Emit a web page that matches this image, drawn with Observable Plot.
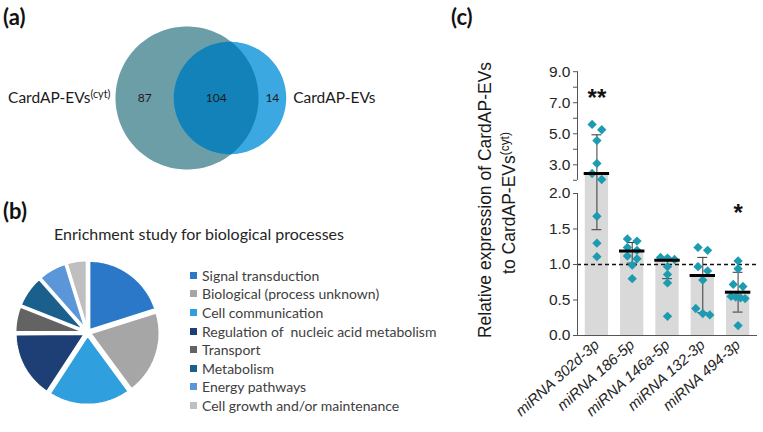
<!DOCTYPE html>
<html>
<head>
<meta charset="utf-8">
<script src="https://cdn.jsdelivr.net/npm/d3@7"></script>
<script src="https://cdn.jsdelivr.net/npm/@observablehq/plot@0.6"></script>
<style>
  body { margin: 0; background: #fff; }
  #fig { position: relative; width: 763px; height: 432px; overflow: hidden; background: #fff; }
  .abs { position: absolute; }
  .letter { position: absolute; font-family: Lato, "Open Sans", sans-serif; font-weight: 700; font-size: 22px; color: #111; line-height: 1; }
  #title { position: absolute; left: 199px; top: 233px; transform: translate(-50%, -50%); white-space: nowrap;
           font-family: Lato, "Open Sans", sans-serif; font-size: 16px; color: #262626; }
  #legend { position: absolute; left: 190px; top: 266px; font-family: Lato, "Open Sans", sans-serif; font-size: 14px; color: #404040; }
  #legend .row { height: 18.6px; display: flex; align-items: center; white-space: pre; }
  #legend .sw { width: 7px; height: 7px; margin-right: 5px; flex: none; }
  .ylab { position: absolute; transform: translate(-50%, -50%) rotate(-90deg); white-space: nowrap;
          font-family: "Liberation Sans", Arial, sans-serif; font-size: 17.5px; color: #1a1a1a; line-height: 1; }
  .ylab sup { font-size: 0.68em; vertical-align: 0.55em; line-height: 0; }
  g[aria-label="x-axis tick label"] text { font-style: italic; font-size: 15px; }
  g[aria-label="y-axis tick label"] text { font-size: 15.5px; }
</style>
</head>
<body>
<div id="fig">
  <div class="letter" style="left:3px; top:6px;">(a)</div>
  <div class="letter" style="left:3px; top:200px;">(b)</div>
  <div class="letter" style="left:451px; top:6px;">(c)</div>
  <div id="panelA" class="abs" style="left:0; top:0;"></div>
  <div id="title">Enrichment study for biological processes</div>
  <div id="panelB" class="abs" style="left:0; top:200px;"></div>
  <div id="legend"></div>
  <div class="ylab" style="left:486px; top:200px;">Relative expression of CardAP-EVs</div>
  <div class="ylab" style="left:510px; top:203px;">to CardAP-EVs<sup>(cyt)</sup></div>
  <div id="panelC" class="abs" style="left:470px; top:0;"></div>
</div>
<script>
// ---------------- DATA ----------------
// (a) Venn
const vennSets = ["CardAP-EVs(cyt)", "CardAP-EVs"];
const vennOnly = [87, 14];
const vennShared = 104;
const vennColors = ["#6c9ea8", "#3ca8e1", "#1282b9"];

// (b) Pie
const bioProcesses = ["Signal transduction", "Biological (process unknown)", "Cell communication",
  "Regulation of  nucleic acid metabolism", "Transport", "Metabolism", "Energy pathways",
  "Cell growth and/or maintenance"];
const bioShares = [20.1, 19.8, 19.3, 15.7, 6.1, 7.5, 6.7, 4.8];
const bioColors = ["#2b78c8", "#a6a6a6", "#2f9fdd", "#1d3f75", "#636363", "#1b5f8d", "#5a96d8", "#bfbfbf"];

// (c) Bars
const mirnas = ["miRNA 302d-3p", "miRNA 186-5p", "miRNA 146a-5p", "miRNA 132-3p", "miRNA 494-3p"];
const barValues = [2.44, 1.19, 1.06, 0.845, 0.61];
const errLow = [1.49, 1.02, 0.80, 0.32, 0.33];
const errHigh = [4.93, 1.31, 1.08, 1.10, 0.89];
const replicates = [
  [5.60, 5.26, 4.56, 3.09, 2.44, 2.05, 1.68, 1.30, 1.11],
  [1.36, 1.33, 1.24, 1.20, 1.12, 1.08, 0.99, 0.80],
  [1.10, 1.09, 1.07, 0.97, 0.86, 0.74, 0.27],
  [1.24, 1.20, 0.97, 0.91, 0.78, 0.38, 0.31, 0.29],
  [1.05, 0.94, 0.72, 0.69, 0.55, 0.54, 0.53, 0.52, 0.14]
];
const sigMarks = ["**", "", "", "", "*"];
const sigLevels = [7.3, null, null, null, 1.72];
const yTicksLower = [0, 0.5, 1, 1.5, 2];
const yTicksUpperLabeled = [3, 5, 7, 9];
const yTicksUpperMinor = [4, 6, 8];
const referenceLevel = 1;

// ---------------- PANEL (a): Venn ----------------
(function () {
  const PW = 380, PH = 200, cx = 186.5, cy = 97.5, rBig = 71.5, gap = 43;
  const totals = [vennOnly[0] + vennShared, vennOnly[1] + vennShared];
  const k = rBig / Math.sqrt(totals[0]);
  const r1 = k * Math.sqrt(totals[0]), r2 = k * Math.sqrt(totals[1]);
  const d = gap;
  const N = 180;
  const circ = (x0, r, id) => d3.range(N).map(i => ({id, x: x0 + r * Math.cos(2 * Math.PI * i / N), y: r * Math.sin(2 * Math.PI * i / N)}));
  const a = (d * d + r1 * r1 - r2 * r2) / (2 * d);
  const h = Math.sqrt(r1 * r1 - a * a);
  const t1 = Math.atan2(h, a), phi = Math.atan2(h, a - d);
  const lens = [];
  for (let i = 0; i <= 60; i++) { const t = -t1 + 2 * t1 * i / 60; lens.push({x: r1 * Math.cos(t), y: r1 * Math.sin(t)}); }
  for (let i = 0; i <= 90; i++) { const t = phi + (2 * Math.PI - 2 * phi) * i / 90; lens.push({x: d + r2 * Math.cos(t), y: r2 * Math.sin(t)}); }
  const counts = [
    {x: (-r1 + (d - r2)) / 2, n: vennOnly[0]},
    {x: ((d - r2) + r1) / 2, n: vennShared},
    {x: (r1 + d + r2) / 2, n: vennOnly[1]}
  ];
  const labels = [
    {x: -r1 - 5, t: vennSets[0], anchor: "end"},
    {x: d + r2 + 7, t: vennSets[1], anchor: "start"}
  ];
  const svg = Plot.plot({
    width: PW, height: PH, margin: 0,
    x: {domain: [-cx, PW - cx], range: [0, PW], axis: null},
    y: {domain: [-cy, PH - cy], range: [0, PH], axis: null},
    style: {background: "transparent", overflow: "visible"},
    marks: [
      Plot.line(circ(0, r1, "big"), {x: "x", y: "y", fill: vennColors[0], stroke: "none", curve: "linear-closed"}),
      Plot.line(circ(d, r2, "small"), {x: "x", y: "y", fill: vennColors[1], stroke: "none", curve: "linear-closed"}),
      Plot.line(lens, {x: "x", y: "y", fill: vennColors[2], stroke: "none", curve: "linear-closed"}),
      Plot.text(counts, {x: "x", y: 0, text: d => String(d.n), fontSize: 12, fill: "#1a1a1a", fontFamily: "Lato, 'Open Sans', sans-serif"}),
      Plot.text(labels.filter(l => l.anchor === "end"), {x: "x", y: 0, text: "t", textAnchor: "end", fontSize: 15.5, fill: "#1a1a1a", fontFamily: "Lato, 'Open Sans', sans-serif"}),
      Plot.text(labels.filter(l => l.anchor === "start"), {x: "x", y: 0, text: "t", textAnchor: "start", fontSize: 15.5, fill: "#1a1a1a", fontFamily: "Lato, 'Open Sans', sans-serif"})
    ]
  });
  d3.select(svg).selectAll("text").each(function () {
    const s = this.textContent;
    if (s.endsWith("(cyt)")) {
      const el = d3.select(this);
      el.text(s.replace("(cyt)", ""));
      el.append("tspan").attr("dy", "-0.45em").attr("font-size", "0.7em").text("(cyt)");
    }
  });
  document.getElementById("panelA").appendChild(svg);
})();

// ---------------- PANEL (b): Pie ----------------
(function () {
  const PW = 190, PH = 232, cx = 87, cy = 132, R = 70, explode = 2.5;
  const arcs = d3.pie().sort(null).value(d => d)(bioShares);
  const pts = [];
  arcs.forEach((arc, i) => {
    const mid = (arc.startAngle + arc.endAngle) / 2;
    const ox = explode * Math.sin(mid), oy = -explode * Math.cos(mid);
    pts.push({s: i, x: ox, y: oy, c: bioColors[i]});
    const n = Math.max(8, Math.ceil((arc.endAngle - arc.startAngle) / 0.03));
    for (let j = 0; j <= n; j++) {
      const t = arc.startAngle + (arc.endAngle - arc.startAngle) * j / n;
      pts.push({s: i, x: ox + R * Math.sin(t), y: oy - R * Math.cos(t), c: bioColors[i]});
    }
  });
  const svg = Plot.plot({
    width: PW, height: PH, margin: 0,
    x: {domain: [-cx, PW - cx], range: [0, PW], axis: null},
    y: {domain: [-cy, PH - cy], range: [0, PH], axis: null},
    color: {type: "identity"},
    style: {background: "transparent", overflow: "visible"},
    marks: [
      Plot.line(pts, {x: "x", y: "y", z: "s", fill: "c", stroke: "white", strokeWidth: 2.8, strokeLinejoin: "round", curve: "linear-closed"})
    ]
  });
  document.getElementById("panelB").appendChild(svg);

  const lg = d3.select("#legend");
  bioProcesses.forEach((p, i) => {
    const row = lg.append("div").attr("class", "row");
    row.append("div").attr("class", "sw").style("background", bioColors[i]);
    row.append("span").text(p);
  });
})();

// ---------------- PANEL (c): Bars ----------------
(function () {
  const PL = 470, PW = 293, PH = 432;
  const xDomain = [-0.55, mirnas.length - 1 + 0.55];
  const xRange = [577 - PL, 757 - PL];
  const EPS = 1e-6;
  const yDomain = [0, 2, 2 + EPS, 9];
  const yRange = [335, 193, 179.8, 71.2];
  const pxPerUnit = (xRange[1] - xRange[0]) / (xDomain[1] - xDomain[0]);
  const yScale = Plot.scale({y: {type: "linear", domain: yDomain, range: yRange}});

  const summary = mirnas.map((m, i) => ({i, m, value: barValues[i], lo: errLow[i], hi: errHigh[i]}));
  const caps = summary.flatMap(d => [{i: d.i, y: d.lo}, {i: d.i, y: d.hi}]);

  // arrange replicates in rows (like a scatter-dot-plot), offsets derived from scaled y
  const dots = [];
  replicates.forEach((vals, i) => {
    const sorted = vals.slice().sort((a, b) => b - a);
    const rows = [];
    sorted.forEach(v => {
      const py = yScale.apply(v);
      const last = rows[rows.length - 1];
      if (last && Math.abs(py - last.py0) <= 7) last.vals.push(v);
      else rows.push({py0: py, vals: [v]});
    });
    rows.forEach(r => {
      const n = r.vals.length;
      const sp = n <= 2 ? 9.6 : 14 / (n - 1);
      r.vals.forEach((v, j) => dots.push({i, value: v, x: i + ((j - (n - 1) / 2) * sp) / pxPerUnit}));
    });
  });

  const upperTicks = [2 + EPS, ...yTicksUpperMinor, ...yTicksUpperLabeled].sort((a, b) => a - b);
  const allTicks = [...yTicksLower, ...upperTicks];
  const labeled = new Set([...yTicksLower, ...yTicksUpperLabeled]);
  const axisSegments = [{y1: yDomain[0], y2: yDomain[1]}, {y1: yDomain[2], y2: yDomain[3]}];
  const sig = summary.map((d, i) => ({i, mark: sigMarks[i], y: sigLevels[i]})).filter(d => d.mark);

  const svg = Plot.plot({
    width: PW, height: PH,
    marginLeft: 577 - PL, marginRight: PL + PW - 757, marginTop: 71, marginBottom: PH - 335,
    x: {domain: xDomain, range: xRange},
    y: {type: "linear", domain: yDomain, range: yRange},
    style: {fontFamily: "'Liberation Sans', Arial, sans-serif", fontSize: "15px", color: "#262626", background: "transparent", overflow: "visible"},
    marks: [
      Plot.rect(summary, {x1: d => d.i - 0.33, x2: d => d.i + 0.33, y1: 0, y2: "value", fill: "#d9d9d9"}),
      Plot.ruleY([referenceLevel], {stroke: "#111", strokeWidth: 1.5, strokeDasharray: "4 3"}),
      Plot.ruleX(summary, {x: "i", y1: "lo", y2: "hi", stroke: "#3a3a3a", strokeWidth: 1}),
      Plot.ruleY(caps, {x1: d => d.i - 0.14, x2: d => d.i + 0.14, y: "y", stroke: "#3a3a3a", strokeWidth: 1}),
      Plot.dot(dots, {x: "x", y: "value", symbol: "diamond2", r: 4.2, fill: "#1d9bb0", stroke: "none"}),
      Plot.ruleY(summary, {x1: d => d.i - 0.36, x2: d => d.i + 0.36, y: "value", stroke: "#000", strokeWidth: 3}),
      Plot.text(sig, {x: "i", y: "y", text: "mark", fontSize: 24, fontWeight: "bold", fill: "#111"}),
      Plot.ruleY([0], {stroke: "#555", strokeWidth: 1}),
      Plot.ruleX(axisSegments, {x: xDomain[0], y1: "y1", y2: "y2", stroke: "#555", strokeWidth: 1}),
      Plot.axisY({ticks: allTicks, tickFormat: d => labeled.has(d) ? d.toFixed(1) : "", tickSize: 4, tickPadding: 3, label: null, stroke: "#555", fill: "#262626", fontSize: 15}),
      Plot.axisX({ticks: mirnas.map((_, i) => i), tickFormat: i => mirnas[i], tickRotate: -42, tickSize: 0, tickPadding: 7, label: null, fill: "#262626", fontSize: 15})
    ]
  });
  document.getElementById("panelC").appendChild(svg);
})();
</script>
</body>
</html>
